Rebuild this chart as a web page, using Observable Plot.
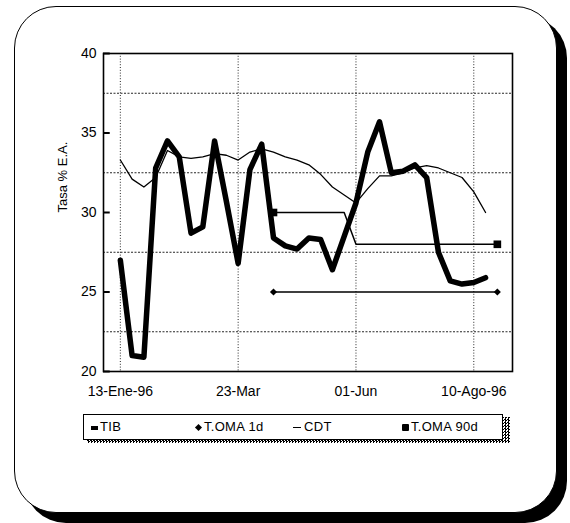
<!DOCTYPE html>
<html>
<head>
<meta charset="utf-8">
<script src="https://cdn.jsdelivr.net/npm/d3@7"></script>
<script src="https://cdn.jsdelivr.net/npm/@observablehq/plot@0.6"></script>
<style>
  html, body { margin: 0; padding: 0; background: #fff; }
  body { width: 570px; height: 523px; position: relative; overflow: hidden; font-family: "Liberation Sans", Arial, sans-serif; }
  #frame { position: absolute; left: 14px; top: 6px; width: 543px; height: 507px; box-sizing: border-box;
           border: 1.5px solid #000; border-radius: 42px; box-shadow: 10px 10px 0 #000; background: #fff; }
  #chart { position: absolute; left: 0; top: 0; }
  #legendShadow { position: absolute; left: 87px; top: 417px; width: 423px; height: 26px;
           background: repeating-conic-gradient(#000 0 25%, #fff 0 50%) 0 0 / 3px 3px; }
  #legend { position: absolute; left: 83px; top: 414px; width: 420px; height: 26px; box-sizing: border-box;
           border: 1.5px solid #000; background: #fff; font-size: 13px; letter-spacing: 0.3px; }
  .item { position: absolute; top: 5px; white-space: nowrap; line-height: 14px; }
  .sym { display: inline-block; background: #000; vertical-align: middle; margin-right: 2px; }
</style>
</head>
<body>
<div id="frame"></div>
<div id="chart"></div>
<div id="legendShadow"></div>
<div id="legend"></div>
<script>
// Weekly observation dates
const dates = [
  "1996-01-13","1996-01-20","1996-01-27","1996-02-03","1996-02-10","1996-02-17","1996-02-24",
  "1996-03-02","1996-03-09","1996-03-16","1996-03-23","1996-03-30","1996-04-06","1996-04-13",
  "1996-04-20","1996-04-27","1996-05-04","1996-05-11","1996-05-18","1996-05-25","1996-06-01",
  "1996-06-08","1996-06-15","1996-06-22","1996-06-29","1996-07-06","1996-07-13","1996-07-20",
  "1996-07-27","1996-08-03","1996-08-10","1996-08-17","1996-08-24"
];
// TIB (thick line)
const tib = [27.0, 21.0, 20.9, 32.8, 34.5, 33.5, 28.7, 29.1, 34.5, 30.7, 26.8, 32.7, 34.3, 28.4,
  27.9, 27.7, 28.4, 28.3, 26.4, 28.5, 30.6, 33.8, 35.7, 32.5, 32.6, 33.0, 32.2, 27.5,
  25.7, 25.5, 25.6, 25.9, null];
// CDT (thin line)
const cdt = [33.3, 32.1, 31.6, 32.2, 33.9, 33.5, 33.4, 33.5, 33.7, 33.6, 33.3, 33.8, 34.0, 33.8,
  33.5, 33.3, 33.0, 32.4, 31.6, 31.1, 30.6, 31.5, 32.3, 32.3, 32.5, 32.8, 32.95, 32.8,
  32.5, 32.2, 31.3, 30.0, null];
// T.OMA 1d
const toma1d = [null, null, null, null, null, null, null, null, null, null, null, null, null, 25,
  25, 25, 25, 25, 25, 25, 25, 25, 25, 25, 25, 25, 25, 25, 25, 25, 25, 25, 25];
// T.OMA 90d
const toma90d = [null, null, null, null, null, null, null, null, null, null, null, null, null, 30,
  30, 30, 30, 30, 30, 30, 28, 28, 28, 28, 28, 28, 28, 28, 28, 28, 28, 28, 28];

// Axis ticks
const xTickDates = ["1996-01-13", "1996-03-23", "1996-06-01", "1996-08-10"];
const xTickLabels = ["13-Ene-96", "23-Mar", "01-Jun", "10-Ago-96"];
const yTicks = [20, 25, 30, 35, 40];
const yGrid = [22.5, 27.5, 32.5, 37.5];
const yLabel = "Tasa % E.A.";
const legendLabels = ["TIB", "T.OMA 1d", "CDT", "T.OMA 90d"];

const rows = dates.map((d, i) => ({date: new Date(d), tib: tib[i], cdt: cdt[i], t1: toma1d[i], t90: toma90d[i]}));
const xTicks = xTickDates.map(d => new Date(d));
const labelMap = new Map(xTicks.map((d, i) => [+d, xTickLabels[i]]));
const ends = (key) => { const r = rows.filter(d => d[key] != null); return [r[0], r[r.length - 1]]; };
const xDomain = [new Date("1996-01-03"), new Date("1996-09-02")];

const chart = Plot.plot({
  width: 570, height: 405,
  marginLeft: 103, marginRight: 58, marginTop: 53, marginBottom: 34,
  style: {background: "none", fontFamily: "'Liberation Sans', Arial, sans-serif", fontSize: "14px", overflow: "visible"},
  x: {type: "utc", domain: xDomain},
  y: {domain: [20, 40]},
  marks: [
    Plot.ruleY(yGrid, {stroke: "#000", strokeWidth: 1, strokeDasharray: "2,1.5", strokeOpacity: 0.85}),
    Plot.ruleX(xTicks, {stroke: "#000", strokeWidth: 1, strokeDasharray: "1,1.8", strokeOpacity: 0.85}),
    Plot.line(rows, {x: "date", y: "cdt", stroke: "#000", strokeWidth: 1.3}),
    Plot.line(rows, {x: "date", y: "t90", stroke: "#000", strokeWidth: 1.5}),
    Plot.line(rows, {x: "date", y: "t1", stroke: "#000", strokeWidth: 1.5}),
    Plot.line(rows, {x: "date", y: "tib", stroke: "#000", strokeWidth: 5.5, strokeLinejoin: "round"}),
    Plot.dot(ends("t1"), {x: "date", y: "t1", symbol: "diamond2", r: 3.2, fill: "#000", stroke: "none"}),
    Plot.dot(ends("t90"), {x: "date", y: "t90", symbol: "square", r: 4.3, fill: "#000", stroke: "none"}),
    Plot.frame({stroke: "#000", strokeWidth: 1.6}),
    // inward tick marks on the y axis (about 4 days wide from the left edge of the domain)
    Plot.ruleY(yTicks, {y: d => d, x1: () => xDomain[0], x2: () => d3.utcDay.offset(xDomain[0], 4), stroke: "#000", strokeWidth: 2}),
    Plot.axisY(yTicks, {tickSize: 0, tickPadding: 7, tickFormat: d => String(d), fontSize: 14, label: null, letterSpacing: "0.5px"}),
    Plot.axisX(xTicks, {tickSize: 0, tickPadding: 15, tickFormat: d => labelMap.get(+d), fontSize: 14, label: null, letterSpacing: "0.5px"}),
    Plot.text([yLabel], {text: d => d, frameAnchor: "left", dx: -41, rotate: -90, fontSize: 13, letterSpacing: "0.5px", fill: "#000"})
  ]
});
document.getElementById("chart").appendChild(chart);

// Legend
const legend = document.getElementById("legend");
const items = [
  {x: 7, sym: "width:7px;height:4px;"},
  {x: 111, sym: "width:5px;height:5px;transform:rotate(45deg);margin-left:1px;margin-right:3px;"},
  {x: 209, sym: "width:8px;height:1.5px;margin-right:3px;"},
  {x: 318, sym: "width:7px;height:7px;border-radius:1px;"}
];
items.forEach((it, i) => {
  const el = document.createElement("div");
  el.className = "item";
  el.style.left = it.x + "px";
  el.innerHTML = `<span class="sym" style="${it.sym}"></span>${legendLabels[i]}`;
  legend.appendChild(el);
});
</script>
</body>
</html>
